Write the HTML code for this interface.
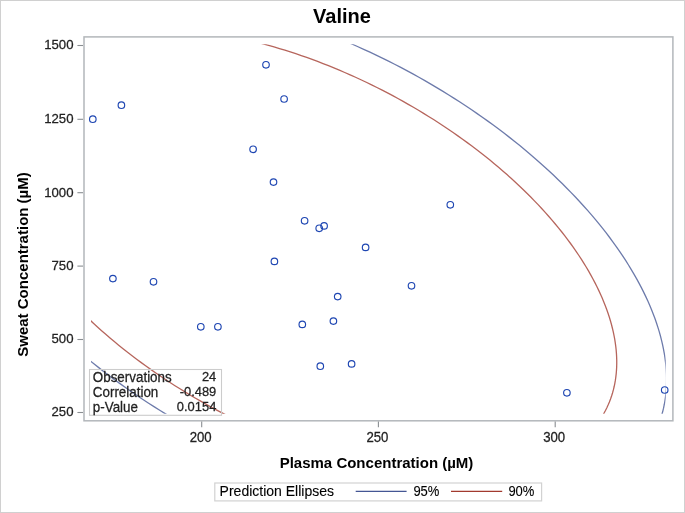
<!DOCTYPE html>
<html><head><meta charset="utf-8"><style>
html,body{margin:0;padding:0;background:#fff;}
svg{display:block;will-change:transform;font-family:"Liberation Sans",sans-serif;}
</style></head><body>
<svg width="685" height="513" viewBox="0 0 685 513">
<rect x="0.5" y="0.5" width="684" height="512" fill="#fff" stroke="#d0d0d0" stroke-width="1"/>
<text transform="translate(342,23)" font-size="20" font-weight="bold" fill="#000" text-anchor="middle">Valine</text>
<defs><clipPath id="c"><rect x="91" y="44.3" width="574.7" height="369.4"/></clipPath></defs>
<g clip-path="url(#c)" fill="none" stroke-width="1.3" stroke-opacity="0.78"><path d="M-10.88,254.12 L-13.95,249.57 L-16.93,245.03 L-19.80,240.48 L-22.58,235.95 L-25.26,231.41 L-27.84,226.89 L-30.31,222.37 L-32.69,217.86 L-34.96,213.36 L-37.13,208.87 L-39.19,204.40 L-41.15,199.94 L-43.01,195.50 L-44.76,191.07 L-46.40,186.66 L-47.94,182.28 L-49.36,177.91 L-50.68,173.57 L-51.90,169.25 L-53.00,164.96 L-54.00,160.69 L-54.88,156.45 L-55.66,152.24 L-56.33,148.07 L-56.89,143.92 L-57.33,139.81 L-57.67,135.73 L-57.90,131.68 L-58.01,127.68 L-58.02,123.71 L-57.92,119.78 L-57.70,115.89 L-57.38,112.04 L-56.94,108.24 L-56.40,104.48 L-55.74,100.76 L-54.98,97.09 L-54.10,93.47 L-53.12,89.90 L-52.03,86.38 L-50.83,82.90 L-49.52,79.48 L-48.10,76.11 L-46.58,72.80 L-44.95,69.54 L-43.21,66.33 L-41.37,63.19 L-39.42,60.10 L-37.37,57.07 L-35.21,54.09 L-32.95,51.18 L-30.59,48.33 L-28.13,45.55 L-25.56,42.82 L-22.89,40.16 L-20.13,37.57 L-17.26,35.03 L-14.30,32.57 L-11.24,30.17 L-8.08,27.84 L-4.83,25.58 L-1.49,23.39 L1.95,21.27 L5.48,19.22 L9.11,17.24 L12.82,15.33 L16.62,13.49 L20.51,11.73 L24.48,10.04 L28.54,8.43 L32.68,6.88 L36.91,5.42 L41.22,4.03 L45.61,2.71 L50.07,1.47 L54.62,0.31 L59.24,-0.78 L63.93,-1.79 L68.70,-2.72 L73.54,-3.57 L78.45,-4.35 L83.43,-5.05 L88.48,-5.67 L93.59,-6.21 L98.76,-6.67 L104.00,-7.05 L109.30,-7.35 L114.66,-7.58 L120.08,-7.72 L125.55,-7.79 L131.08,-7.78 L136.66,-7.68 L142.29,-7.51 L147.97,-7.26 L153.70,-6.93 L159.47,-6.52 L165.29,-6.03 L171.15,-5.46 L177.05,-4.82 L182.99,-4.09 L188.97,-3.29 L194.98,-2.41 L201.03,-1.45 L207.10,-0.41 L213.21,0.70 L219.34,1.89 L225.50,3.15 L231.69,4.50 L237.89,5.91 L244.12,7.41 L250.36,8.97 L256.62,10.61 L262.90,12.33 L269.19,14.12 L275.49,15.98 L281.79,17.91 L288.11,19.92 L294.43,21.99 L300.75,24.14 L307.07,26.35 L313.40,28.64 L319.72,30.99 L326.03,33.41 L332.34,35.90 L338.64,38.45 L344.93,41.07 L351.21,43.75 L357.47,46.50 L363.71,49.31 L369.94,52.18 L376.15,55.11 L382.34,58.10 L388.50,61.15 L394.64,64.26 L400.75,67.43 L406.83,70.65 L412.88,73.93 L418.89,77.27 L424.87,80.65 L430.82,84.09 L436.72,87.58 L442.59,91.12 L448.41,94.71 L454.19,98.35 L459.92,102.04 L465.61,105.77 L471.25,109.54 L476.83,113.36 L482.37,117.22 L487.85,121.13 L493.27,125.07 L498.64,129.05 L503.94,133.07 L509.19,137.13 L514.37,141.22 L519.49,145.34 L524.54,149.50 L529.53,153.69 L534.45,157.91 L539.30,162.16 L544.07,166.43 L548.78,170.74 L553.41,175.06 L557.96,179.41 L562.44,183.79 L566.83,188.18 L571.15,192.59 L575.39,197.02 L579.54,201.47 L583.61,205.94 L587.59,210.42 L591.49,214.91 L595.30,219.41 L599.02,223.92 L602.65,228.44 L606.20,232.97 L609.65,237.51 L613.00,242.05 L616.26,246.59 L619.43,251.13 L622.50,255.68 L625.48,260.22 L628.35,264.77 L631.13,269.30 L633.81,273.84 L636.39,278.36 L638.86,282.88 L641.24,287.39 L643.51,291.89 L645.68,296.38 L647.74,300.85 L649.70,305.31 L651.56,309.75 L653.31,314.18 L654.95,318.59 L656.49,322.97 L657.91,327.34 L659.23,331.68 L660.45,336.00 L661.55,340.29 L662.55,344.56 L663.43,348.80 L664.21,353.01 L664.88,357.18 L665.44,361.33 L665.88,365.44 L666.22,369.52 L666.45,373.57 L666.56,377.57 L666.57,381.54 L666.47,385.47 L666.25,389.36 L665.93,393.21 L665.49,397.01 L664.95,400.77 L664.29,404.49 L663.53,408.16 L662.65,411.78 L661.67,415.35 L660.58,418.87 L659.38,422.35 L658.07,425.77 L656.65,429.14 L655.13,432.45 L653.50,435.71 L651.76,438.92 L649.92,442.06 L647.97,445.15 L645.92,448.18 L643.76,451.16 L641.50,454.07 L639.14,456.92 L636.68,459.70 L634.11,462.43 L631.44,465.09 L628.68,467.68 L625.81,470.22 L622.85,472.68 L619.79,475.08 L616.63,477.41 L613.38,479.67 L610.04,481.86 L606.60,483.98 L603.07,486.03 L599.44,488.01 L595.73,489.92 L591.93,491.76 L588.04,493.52 L584.07,495.21 L580.01,496.82 L575.87,498.37 L571.64,499.83 L567.33,501.22 L562.94,502.54 L558.48,503.78 L553.93,504.94 L549.31,506.03 L544.62,507.04 L539.85,507.97 L535.01,508.82 L530.10,509.60 L525.12,510.30 L520.07,510.92 L514.96,511.46 L509.79,511.92 L504.55,512.30 L499.25,512.60 L493.89,512.83 L488.47,512.97 L483.00,513.04 L477.47,513.03 L471.89,512.93 L466.26,512.76 L460.58,512.51 L454.85,512.18 L449.08,511.77 L443.26,511.28 L437.40,510.71 L431.50,510.07 L425.56,509.34 L419.58,508.54 L413.57,507.66 L407.52,506.70 L401.45,505.66 L395.34,504.55 L389.21,503.36 L383.05,502.10 L376.86,500.75 L370.66,499.34 L364.43,497.84 L358.19,496.28 L351.93,494.64 L345.65,492.92 L339.36,491.13 L333.06,489.27 L326.76,487.34 L320.44,485.33 L314.12,483.26 L307.80,481.11 L301.48,478.90 L295.15,476.61 L288.83,474.26 L282.52,471.84 L276.21,469.35 L269.91,466.80 L263.62,464.18 L257.34,461.50 L251.08,458.75 L244.84,455.94 L238.61,453.07 L232.40,450.14 L226.21,447.15 L220.05,444.10 L213.91,440.99 L207.80,437.82 L201.72,434.60 L195.67,431.32 L189.66,427.98 L183.68,424.60 L177.73,421.16 L171.83,417.67 L165.96,414.13 L160.14,410.54 L154.36,406.90 L148.63,403.21 L142.94,399.48 L137.30,395.71 L131.72,391.89 L126.18,388.03 L120.70,384.12 L115.28,380.18 L109.91,376.20 L104.61,372.18 L99.36,368.12 L94.18,364.03 L89.06,359.91 L84.01,355.75 L79.02,351.56 L74.10,347.34 L69.25,343.09 L64.48,338.82 L59.77,334.51 L55.14,330.19 L50.59,325.84 L46.11,321.46 L41.72,317.07 L37.40,312.66 L33.16,308.23 L29.01,303.78 L24.94,299.31 L20.96,294.83 L17.06,290.34 L13.25,285.84 L9.53,281.33 L5.90,276.81 L2.35,272.28 L-1.10,267.74 L-4.45,263.20 L-7.71,258.66 L-10.88,254.12Z" stroke="#445694"/><path d="M32.46,253.91 L29.82,249.99 L27.25,246.07 L24.77,242.15 L22.37,238.24 L20.06,234.33 L17.84,230.43 L15.71,226.53 L13.66,222.64 L11.70,218.76 L9.83,214.89 L8.05,211.03 L6.36,207.19 L4.76,203.35 L3.25,199.54 L1.83,195.74 L0.51,191.95 L-0.73,188.19 L-1.86,184.44 L-2.91,180.72 L-3.86,177.02 L-4.72,173.34 L-5.49,169.68 L-6.16,166.05 L-6.73,162.45 L-7.21,158.87 L-7.60,155.32 L-7.89,151.81 L-8.08,148.32 L-8.19,144.86 L-8.19,141.44 L-8.10,138.05 L-7.92,134.70 L-7.64,131.38 L-7.26,128.10 L-6.79,124.85 L-6.23,121.65 L-5.57,118.49 L-4.81,115.36 L-3.97,112.28 L-3.02,109.24 L-1.99,106.25 L-0.86,103.29 L0.36,100.39 L1.67,97.53 L3.08,94.72 L4.58,91.96 L6.17,89.24 L7.85,86.58 L9.62,83.96 L11.48,81.40 L13.43,78.89 L15.47,76.43 L17.59,74.03 L19.80,71.68 L22.10,69.38 L24.49,67.14 L26.96,64.96 L29.52,62.84 L32.16,60.77 L34.88,58.76 L37.68,56.81 L40.57,54.92 L43.53,53.09 L46.58,51.32 L49.70,49.61 L52.90,47.97 L56.18,46.38 L59.53,44.86 L62.96,43.41 L66.46,42.01 L70.04,40.68 L73.68,39.42 L77.40,38.22 L81.18,37.08 L85.03,36.01 L88.95,35.01 L92.94,34.07 L96.99,33.20 L101.10,32.40 L105.27,31.66 L109.51,30.99 L113.80,30.39 L118.16,29.86 L122.56,29.39 L127.03,28.99 L131.55,28.66 L136.12,28.40 L140.74,28.21 L145.41,28.08 L150.13,28.03 L154.90,28.04 L159.71,28.12 L164.57,28.27 L169.47,28.48 L174.41,28.77 L179.39,29.12 L184.41,29.54 L189.46,30.03 L194.55,30.59 L199.67,31.22 L204.83,31.91 L210.01,32.67 L215.23,33.49 L220.47,34.39 L225.73,35.35 L231.02,36.37 L236.34,37.47 L241.67,38.62 L247.02,39.85 L252.39,41.13 L257.78,42.48 L263.18,43.90 L268.59,45.38 L274.01,46.92 L279.45,48.53 L284.89,50.19 L290.33,51.92 L295.78,53.71 L301.24,55.56 L306.69,57.47 L312.14,59.45 L317.59,61.47 L323.04,63.56 L328.48,65.71 L333.91,67.91 L339.34,70.17 L344.75,72.48 L350.15,74.85 L355.54,77.27 L360.91,79.75 L366.27,82.28 L371.60,84.86 L376.92,87.49 L382.21,90.17 L387.48,92.90 L392.72,95.68 L397.94,98.51 L403.13,101.38 L408.29,104.31 L413.41,107.27 L418.51,110.28 L423.56,113.34 L428.59,116.43 L433.57,119.57 L438.52,122.75 L443.42,125.97 L448.28,129.22 L453.10,132.52 L457.87,135.85 L462.60,139.21 L467.28,142.61 L471.90,146.05 L476.48,149.51 L481.00,153.01 L485.48,156.54 L489.89,160.10 L494.25,163.68 L498.55,167.30 L502.79,170.94 L506.97,174.60 L511.09,178.29 L515.15,182.00 L519.14,185.73 L523.07,189.48 L526.93,193.25 L530.72,197.04 L534.44,200.85 L538.10,204.67 L541.68,208.51 L545.19,212.36 L548.63,216.22 L551.99,220.09 L555.27,223.98 L558.48,227.87 L561.62,231.77 L564.67,235.68 L567.65,239.59 L570.54,243.50 L573.35,247.42 L576.09,251.34 L578.73,255.26 L581.30,259.18 L583.78,263.10 L586.18,267.01 L588.49,270.92 L590.71,274.82 L592.84,278.72 L594.89,282.61 L596.85,286.49 L598.72,290.36 L600.50,294.22 L602.19,298.06 L603.79,301.90 L605.30,305.71 L606.72,309.51 L608.04,313.30 L609.28,317.06 L610.41,320.81 L611.46,324.53 L612.41,328.23 L613.27,331.91 L614.04,335.57 L614.71,339.20 L615.28,342.80 L615.76,346.38 L616.15,349.93 L616.44,353.44 L616.63,356.93 L616.74,360.39 L616.74,363.81 L616.65,367.20 L616.47,370.55 L616.19,373.87 L615.81,377.15 L615.34,380.40 L614.78,383.60 L614.12,386.76 L613.36,389.89 L612.52,392.97 L611.57,396.01 L610.54,399.00 L609.41,401.96 L608.19,404.86 L606.88,407.72 L605.47,410.53 L603.97,413.29 L602.38,416.01 L600.70,418.67 L598.93,421.29 L597.07,423.85 L595.12,426.36 L593.08,428.82 L590.96,431.22 L588.75,433.57 L586.45,435.87 L584.06,438.11 L581.59,440.29 L579.03,442.41 L576.39,444.48 L573.67,446.49 L570.87,448.44 L567.98,450.33 L565.02,452.16 L561.97,453.93 L558.85,455.64 L555.65,457.28 L552.37,458.87 L549.02,460.39 L545.59,461.84 L542.09,463.24 L538.51,464.57 L534.87,465.83 L531.15,467.03 L527.37,468.17 L523.52,469.24 L519.60,470.24 L515.61,471.18 L511.56,472.05 L507.45,472.85 L503.28,473.59 L499.04,474.26 L494.75,474.86 L490.39,475.39 L485.99,475.86 L481.52,476.26 L477.00,476.59 L472.43,476.85 L467.81,477.04 L463.14,477.17 L458.42,477.22 L453.65,477.21 L448.84,477.13 L443.98,476.98 L439.08,476.77 L434.14,476.48 L429.16,476.13 L424.14,475.71 L419.09,475.22 L414.00,474.66 L408.88,474.03 L403.72,473.34 L398.54,472.58 L393.32,471.76 L388.08,470.86 L382.82,469.90 L377.53,468.88 L372.21,467.78 L366.88,466.63 L361.53,465.40 L356.16,464.12 L350.77,462.77 L345.37,461.35 L339.96,459.87 L334.54,458.33 L329.10,456.72 L323.66,455.06 L318.22,453.33 L312.77,451.54 L307.31,449.69 L301.86,447.78 L296.41,445.80 L290.96,443.78 L285.51,441.69 L280.07,439.54 L274.64,437.34 L269.21,435.08 L263.80,432.77 L258.40,430.40 L253.01,427.98 L247.64,425.50 L242.28,422.97 L236.95,420.39 L231.63,417.76 L226.34,415.08 L221.07,412.35 L215.83,409.57 L210.61,406.74 L205.42,403.87 L200.26,400.94 L195.14,397.98 L190.04,394.97 L184.99,391.91 L179.96,388.82 L174.98,385.68 L170.03,382.50 L165.13,379.28 L160.27,376.03 L155.45,372.73 L150.68,369.40 L145.95,366.04 L141.27,362.64 L136.65,359.20 L132.07,355.74 L127.55,352.24 L123.07,348.71 L118.66,345.15 L114.30,341.57 L110.00,337.95 L105.76,334.31 L101.58,330.65 L97.46,326.96 L93.40,323.25 L89.41,319.52 L85.48,315.77 L81.62,312.00 L77.83,308.21 L74.11,304.40 L70.45,300.58 L66.87,296.74 L63.36,292.89 L59.92,289.03 L56.56,285.16 L53.28,281.27 L50.07,277.38 L46.93,273.48 L43.88,269.57 L40.90,265.66 L38.01,261.75 L35.20,257.83 L32.46,253.91Z" stroke="#a23a2e"/></g>
<circle cx="92.8" cy="119.2" r="3.28" fill="none" stroke="#1e46b2" stroke-width="1.15"/>
<circle cx="121.4" cy="105.2" r="3.28" fill="none" stroke="#1e46b2" stroke-width="1.15"/>
<circle cx="266.0" cy="64.8" r="3.28" fill="none" stroke="#1e46b2" stroke-width="1.15"/>
<circle cx="284.1" cy="99.0" r="3.28" fill="none" stroke="#1e46b2" stroke-width="1.15"/>
<circle cx="253.1" cy="149.3" r="3.28" fill="none" stroke="#1e46b2" stroke-width="1.15"/>
<circle cx="273.5" cy="182.1" r="3.28" fill="none" stroke="#1e46b2" stroke-width="1.15"/>
<circle cx="304.6" cy="220.8" r="3.28" fill="none" stroke="#1e46b2" stroke-width="1.15"/>
<circle cx="319.2" cy="228.3" r="3.28" fill="none" stroke="#1e46b2" stroke-width="1.15"/>
<circle cx="324.1" cy="225.9" r="3.28" fill="none" stroke="#1e46b2" stroke-width="1.15"/>
<circle cx="450.3" cy="204.8" r="3.28" fill="none" stroke="#1e46b2" stroke-width="1.15"/>
<circle cx="365.6" cy="247.4" r="3.28" fill="none" stroke="#1e46b2" stroke-width="1.15"/>
<circle cx="411.5" cy="285.8" r="3.28" fill="none" stroke="#1e46b2" stroke-width="1.15"/>
<circle cx="274.4" cy="261.4" r="3.28" fill="none" stroke="#1e46b2" stroke-width="1.15"/>
<circle cx="337.7" cy="296.6" r="3.28" fill="none" stroke="#1e46b2" stroke-width="1.15"/>
<circle cx="302.3" cy="324.4" r="3.28" fill="none" stroke="#1e46b2" stroke-width="1.15"/>
<circle cx="333.4" cy="321.1" r="3.28" fill="none" stroke="#1e46b2" stroke-width="1.15"/>
<circle cx="320.3" cy="366.2" r="3.28" fill="none" stroke="#1e46b2" stroke-width="1.15"/>
<circle cx="351.6" cy="363.9" r="3.28" fill="none" stroke="#1e46b2" stroke-width="1.15"/>
<circle cx="112.9" cy="278.6" r="3.28" fill="none" stroke="#1e46b2" stroke-width="1.15"/>
<circle cx="153.5" cy="281.8" r="3.28" fill="none" stroke="#1e46b2" stroke-width="1.15"/>
<circle cx="200.8" cy="326.8" r="3.28" fill="none" stroke="#1e46b2" stroke-width="1.15"/>
<circle cx="217.9" cy="326.8" r="3.28" fill="none" stroke="#1e46b2" stroke-width="1.15"/>
<circle cx="566.9" cy="392.8" r="3.28" fill="none" stroke="#1e46b2" stroke-width="1.15"/>
<circle cx="664.7" cy="390.0" r="3.28" fill="none" stroke="#1e46b2" stroke-width="1.15"/>
<rect x="89.5" y="369.5" width="132" height="45.8" fill="none" stroke="#cccccc" stroke-width="1.1"/>
<text transform="translate(92.8,382.1) scale(1,1.03)" font-size="13.4" fill="#222222" stroke="#222222" stroke-width="0.25" text-anchor="start">Observations</text>
<text transform="translate(216.3,381.3) scale(1,1.06)" font-size="12.9" fill="#222222" stroke="#222222" stroke-width="0.25" text-anchor="end">24</text>
<text transform="translate(92.8,397.1) scale(1,1.03)" font-size="13.4" fill="#222222" stroke="#222222" stroke-width="0.25" text-anchor="start">Correlation</text>
<text transform="translate(216.3,396.3) scale(1,1.06)" font-size="12.9" fill="#222222" stroke="#222222" stroke-width="0.25" text-anchor="end">-0.489</text>
<text transform="translate(92.8,412.1) scale(1,1.03)" font-size="13.4" fill="#222222" stroke="#222222" stroke-width="0.25" text-anchor="start">p-Value</text>
<text transform="translate(216.3,411.3) scale(1,1.06)" font-size="12.9" fill="#222222" stroke="#222222" stroke-width="0.25" text-anchor="end">0.0154</text>
<rect x="84" y="36.9" width="588.9" height="383.9" fill="none" stroke="#b3b7bb" stroke-width="1.5"/>
<line x1="77.4" y1="45.5" x2="83" y2="45.5" stroke="#8a8e92" stroke-width="1.1"/>
<text transform="translate(73.5,49.4) scale(1,1.01)" font-size="13.2" fill="#222222" stroke="#222222" stroke-width="0.25" text-anchor="end">1500</text>
<line x1="77.4" y1="119.3" x2="83" y2="119.3" stroke="#8a8e92" stroke-width="1.1"/>
<text transform="translate(73.5,123.2) scale(1,1.01)" font-size="13.2" fill="#222222" stroke="#222222" stroke-width="0.25" text-anchor="end">1250</text>
<line x1="77.4" y1="192.7" x2="83" y2="192.7" stroke="#8a8e92" stroke-width="1.1"/>
<text transform="translate(73.5,196.6) scale(1,1.01)" font-size="13.2" fill="#222222" stroke="#222222" stroke-width="0.25" text-anchor="end">1000</text>
<line x1="77.4" y1="266.1" x2="83" y2="266.1" stroke="#8a8e92" stroke-width="1.1"/>
<text transform="translate(73.5,270.0) scale(1,1.01)" font-size="13.2" fill="#222222" stroke="#222222" stroke-width="0.25" text-anchor="end">750</text>
<line x1="77.4" y1="339.5" x2="83" y2="339.5" stroke="#8a8e92" stroke-width="1.1"/>
<text transform="translate(73.5,343.4) scale(1,1.01)" font-size="13.2" fill="#222222" stroke="#222222" stroke-width="0.25" text-anchor="end">500</text>
<line x1="77.4" y1="412.5" x2="83" y2="412.5" stroke="#8a8e92" stroke-width="1.1"/>
<text transform="translate(73.5,416.4) scale(1,1.01)" font-size="13.2" fill="#222222" stroke="#222222" stroke-width="0.25" text-anchor="end">250</text>
<line x1="201.7" y1="421.5" x2="201.7" y2="427.2" stroke="#8a8e92" stroke-width="1.1"/>
<text transform="translate(200.7,441.5) scale(1,1.04)" font-size="13.2" fill="#222222" stroke="#222222" stroke-width="0.25" text-anchor="middle">200</text>
<line x1="378.4" y1="421.5" x2="378.4" y2="427.2" stroke="#8a8e92" stroke-width="1.1"/>
<text transform="translate(377.4,441.5) scale(1,1.04)" font-size="13.2" fill="#222222" stroke="#222222" stroke-width="0.25" text-anchor="middle">250</text>
<line x1="555.2" y1="421.5" x2="555.2" y2="427.2" stroke="#8a8e92" stroke-width="1.1"/>
<text transform="translate(554.2,441.5) scale(1,1.04)" font-size="13.2" fill="#222222" stroke="#222222" stroke-width="0.25" text-anchor="middle">300</text>
<text transform="translate(376.5,467.5)" font-size="15" font-weight="bold" fill="#000" text-anchor="middle">Plasma Concentration (µM)</text>
<text transform="translate(28,264.5) rotate(-90)" font-size="15" font-weight="bold" fill="#000" text-anchor="middle">Sweat Concentration (µM)</text>
<rect x="214.8" y="483" width="326.8" height="17.9" fill="none" stroke="#d2d2d2" stroke-width="1.2"/>
<text transform="translate(219.6,496)" font-size="14" fill="#000" stroke="#000" stroke-width="0.1" text-anchor="start">Prediction Ellipses</text>
<line x1="355.7" y1="491.4" x2="406.6" y2="491.4" stroke="#445694" stroke-width="1.1"/>
<text transform="translate(413.4,496) scale(1,1.07)" font-size="13" fill="#000" stroke="#000" stroke-width="0.1" text-anchor="start">95%</text>
<line x1="451" y1="491.4" x2="502.2" y2="491.4" stroke="#a23a2e" stroke-width="1.1"/>
<text transform="translate(508.4,496) scale(1,1.07)" font-size="13" fill="#000" stroke="#000" stroke-width="0.1" text-anchor="start">90%</text>
</svg>
</body></html>
